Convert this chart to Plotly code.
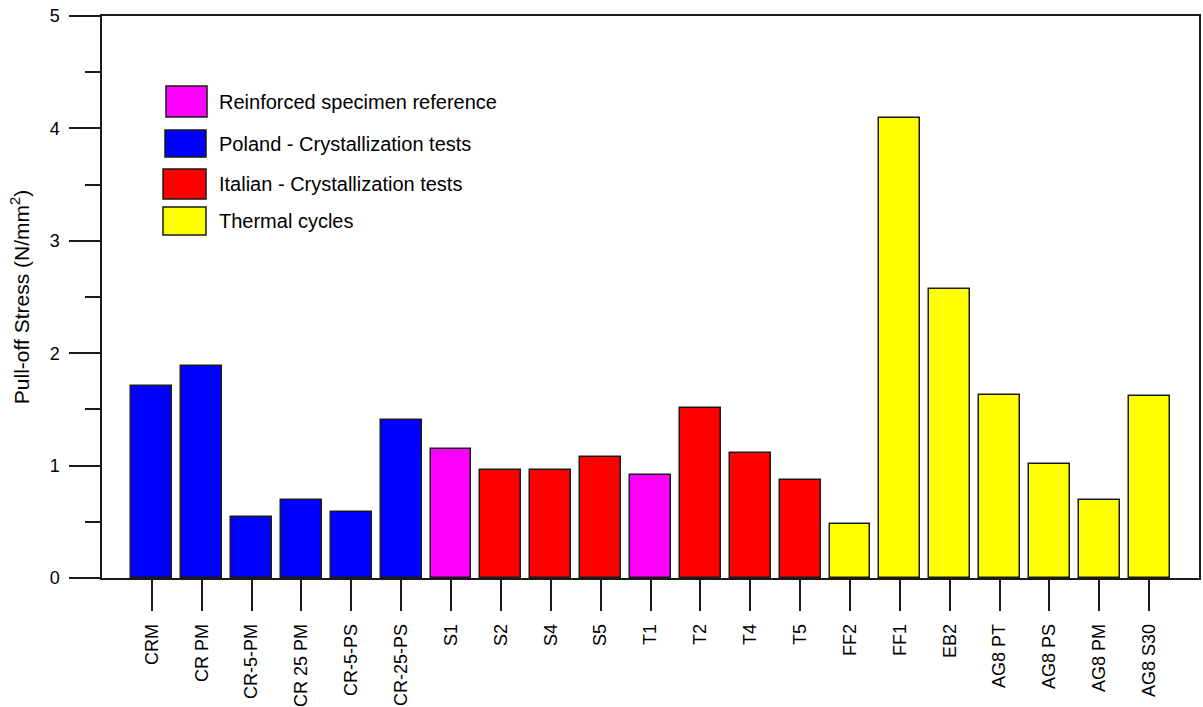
import plotly.graph_objects as go

# Pull-off stress per specimen
specimens = ["CRM", "CR PM", "CR-5-PM", "CR 25 PM", "CR-5-PS", "CR-25-PS",
             "S1", "S2", "S4", "S5", "T1", "T2", "T4", "T5",
             "FF2", "FF1", "EB2", "AG8 PT", "AG8 PS", "AG8 PM", "AG8 S30"]
stress = [1.71, 1.89, 0.54, 0.69, 0.59, 1.41,
          1.15, 0.96, 0.96, 1.08, 0.92, 1.51, 1.11, 0.87,
          0.48, 4.09, 2.57, 1.63, 1.01, 0.69, 1.62]
groups = ["poland"] * 6 + ["ref", "italy", "italy", "italy", "ref", "italy", "italy", "italy"] + ["thermal"] * 7

group_names = ["ref", "poland", "italy", "thermal"]
group_labels = ["Reinforced specimen reference", "Poland - Crystallization tests",
                "Italian - Crystallization tests", "Thermal cycles"]
group_colors = ["#FF00FF", "#0000FF", "#FF0000", "#FFFF00"]

color_of = dict(zip(group_names, group_colors))
FONT = "Liberation Sans, Arial, sans-serif"
INK = "#1a1a1a"

fig = go.Figure()
fig.add_trace(go.Bar(
    x=list(range(len(specimens))),
    y=stress,
    width=0.82,
    marker=dict(color=[color_of[g] for g in groups],
                line=dict(color=INK, width=1.5)),
    showlegend=False,
    hoverinfo="x+y",
))

# Hand-placed legend: coloured boxes with labels
box_rows = [(86, 117), (130, 157), (169, 199), (207, 235)]
box_x = [(166, 207), (165, 206), (163, 206), (163, 206)]
L, T, PW, PH = 102, 16, 1097, 562
for (y0, y1), (x0, x1), col, lab in zip(box_rows, box_x, group_colors, group_labels):
    fig.add_shape(type="rect", xref="paper", yref="paper",
                  x0=(x0 - L) / PW, x1=(x1 - L) / PW,
                  y0=1 - (y1 - T) / PH, y1=1 - (y0 - T) / PH,
                  fillcolor=col, line=dict(color=INK, width=1.5))
    fig.add_annotation(xref="paper", yref="paper",
                       x=(217 - L) / PW, y=1 - ((y0 + y1) / 2 - T) / PH,
                       text=lab, showarrow=False, xanchor="left", yanchor="middle",
                       font=dict(family=FONT, size=20, color="black"))

fig.update_layout(
    width=1203, height=707,
    margin=dict(l=102, r=4, t=16, b=129),
    paper_bgcolor="white", plot_bgcolor="white",
    font=dict(family=FONT, size=18, color="black"),
    bargap=0,
)
fig.update_xaxes(
    range=[-1, 21], automargin=False,
    tickmode="array", tickvals=list(range(len(specimens))), ticktext=specimens,
    tickangle=-90, ticks="outside", ticklen=31, tickwidth=1.5, tickcolor=INK,
    ticklabelstandoff=6,
    showline=True, linecolor=INK, linewidth=1.5, mirror=True,
    showgrid=False, zeroline=False,
    tickfont=dict(family=FONT, size=18),
)
fig.update_yaxes(
    range=[0, 5], dtick=1, automargin=False,
    ticks="outside", ticklen=31, tickwidth=1.5, tickcolor=INK,
    ticklabelstandoff=6,
    minor=dict(dtick=0.5, ticks="outside", ticklen=15, tickwidth=1.5, tickcolor=INK, showgrid=False),
    showline=True, linecolor=INK, linewidth=1.5, mirror=True,
    showgrid=False, zeroline=False,
    tickfont=dict(family=FONT, size=18),
    title=dict(text="Pull-off Stress (N/mm<sup>2</sup>)", font=dict(family=FONT, size=21), standoff=14),
)

fig.write_html("out.html")
